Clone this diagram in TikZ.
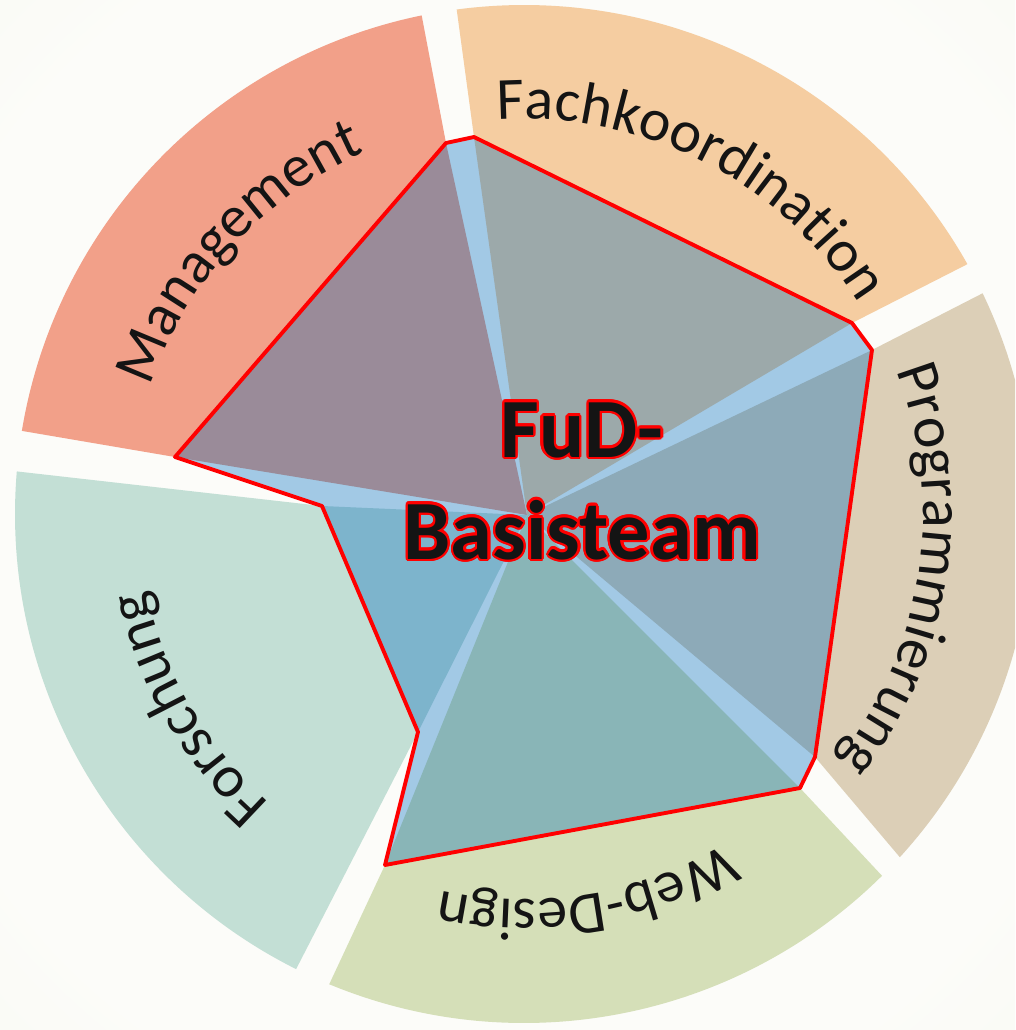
\documentclass[tikz,border=0pt]{standalone}
\usepackage{fontspec}
\setmainfont{Carlito}
\usepackage{xcolor}
\usepackage{contour}
\definecolor{BgIn}{RGB}{252,252,249}
\definecolor{BgMid}{RGB}{244,246,236}
\definecolor{BgOut}{RGB}{228,234,213}
\definecolor{MgmtOut}{RGB}{242,160,137}
\definecolor{FachOut}{RGB}{245,205,161}
\definecolor{ProgOut}{RGB}{220,207,183}
\definecolor{WebOut}{RGB}{213,223,184}
\definecolor{ForOut}{RGB}{195,223,213}
\definecolor{MgmtIn}{RGB}{154,139,153}
\definecolor{FachIn}{RGB}{156,169,170}
\definecolor{ProgIn}{RGB}{141,170,184}
\definecolor{WebIn}{RGB}{137,181,183}
\definecolor{ForIn}{RGB}{125,180,204}
\definecolor{HubBlue}{RGB}{162,201,229}
\definecolor{EdgeRed}{RGB}{255,0,0}
\definecolor{Ink}{RGB}{20,20,20}
\usetikzlibrary{calc}
\usetikzlibrary{decorations.text}

\contourlength{0.7pt}
\newcommand{\labelfont}{\fontsize{17}{20}\selectfont}
\pgfdeclareradialshading{backdrop}{\pgfpoint{0cm}{0cm}}{%
  color(0bp)=(BgIn); color(30bp)=(BgIn); color(52bp)=(BgMid); color(72bp)=(BgOut)}

\begin{document}
\begin{tikzpicture}[
    , ring/.style = {
      , fill = #1
    }
    , wedge/.style = {
      , fill = #1
    }
    , outline/.style = {
      , draw = EdgeRed
      , line width = 1.1pt
      , line join = round
    }
    , ringlabel/.style = {
      , decorate
      , decoration = {
        text along path,
        text align = center,
        text color = Ink,
        text = {|\labelfont|#1}
      }
    }
    , title/.style = {
      , font = \fontsize{24}{29}\selectfont\bfseries
      , text = Ink
      , inner sep = 0pt
      , anchor = base
    }
    ]
    \clip (-5.24,-5.16) rectangle (4.91,5.14);
    \shade[shading=backdrop] (-5.24,-5.16) rectangle (4.91,5.14);

    \def\rad{5.09}

    \coordinate (hub) at (0.03,-0.01);
    \coordinate (p1) at (-0.78,3.71);
    \coordinate (p2) at (-0.50,3.77);
    \coordinate (p3) at (3.28,1.91);
    \coordinate (p4) at (3.48,1.64);
    \coordinate (p5) at (2.91,-2.43);
    \coordinate (p6) at (2.76,-2.74);
    \coordinate (p7) at (-1.39,-3.51);
    \coordinate (p8) at (-1.06,-2.18);
    \coordinate (p9) at (-2.02,0.08);
    \coordinate (p10) at (-3.49,0.57);

    \fill[ring=MgmtOut] (hub) -- (p1) -- (101.6:\rad) arc[start angle=101.6, end angle=170.6, radius=\rad] -- (p10) -- cycle;
    \fill[ring=FachOut] (hub) -- (p3) -- (29.4:\rad) arc[start angle=29.4, end angle=97.6, radius=\rad] -- (p2) -- cycle;
    \fill[ring=ProgOut] (hub) -- (p5) -- (-42.4:\rad) arc[start angle=-42.4, end angle=25.7, radius=\rad] -- (p4) -- cycle;
    \fill[ring=WebOut] (hub) -- (p7) -- (-112.5:\rad) arc[start angle=-112.5, end angle=-45.3, radius=\rad] -- (p6) -- cycle;
    \fill[ring=ForOut] (hub) -- (p9) -- (175.2:\rad) arc[start angle=175.2, end angle=243.4, radius=\rad] -- (p8) -- cycle;

    \fill[HubBlue] (p1) \foreach \i in {2,...,10} { -- (p\i) } -- cycle;
    \fill[wedge=MgmtIn] (hub) -- (p10) -- (p1) -- cycle;
    \fill[wedge=FachIn] (hub) -- (p2) -- (p3) -- cycle;
    \fill[wedge=ProgIn] (hub) -- (p4) -- (p5) -- cycle;
    \fill[wedge=WebIn] (hub) -- (p6) -- (p7) -- cycle;
    \fill[wedge=ForIn] (hub) -- (p8) -- (p9) -- cycle;
    \draw[outline] (p1) \foreach \i in {2,...,10} { -- (p\i) } -- cycle;

    \path[ringlabel={Management}] (182.5:3.95) arc[start angle=182.5, end angle=92.5, radius=3.95];
    \path[ringlabel={Fachkoordination}] (108:3.95) arc[start angle=108, end angle=18, radius=3.95];
    \path[ringlabel={Programmierung}] (36.5:3.99) arc[start angle=36.5, end angle=-53.5, radius=3.99];
    \path[ringlabel={Web-Design}] (-35.5:3.86) arc[start angle=-35.5, end angle=-125.5, radius=3.86];
    \path[ringlabel={Forschung}] (255:3.85) arc[start angle=255, end angle=165, radius=3.85];

    \node[title] (fud) at (0.58,0.57) {\contour{EdgeRed}{FuD-}};
    \node[title] (basis) at (0.58,-0.45) {\contour{EdgeRed}{Basisteam}};
  \end{tikzpicture}
\end{document}
